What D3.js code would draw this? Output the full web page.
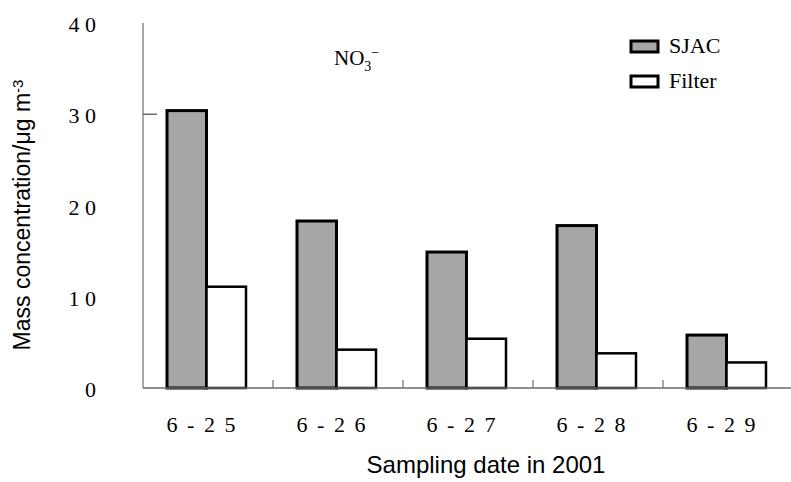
<!DOCTYPE html>
<html>
<head>
<meta charset="utf-8">
<script src="https://cdn.jsdelivr.net/npm/d3@7"></script>
<style>
  body { margin: 0; background: #fff; }
  .serif { font-family: "Liberation Serif", "Times New Roman", serif; }
  .sans { font-family: "Liberation Sans", Arial, sans-serif; }
</style>
</head>
<body>
<div id="chart"></div>
<script>
// data
var dates = ["6 - 2 5", "6 - 2 6", "6 - 2 7", "6 - 2 8", "6 - 2 9"];
var series = ["SJAC", "Filter"];
var sjac = [30.4, 18.3, 14.9, 17.8, 5.8];
var filter = [11.1, 4.2, 5.4, 3.8, 2.8];
var yTicks = [0, 10, 20, 30, 40];
var yTickLabels = ["0", "1 0", "2 0", "3 0", "4 0"];

var svgWidth = 791, svgHeight = 482;
var margin = {top: 23, left: 143, bottom: 94, right: -2};
var chartwidth = svgWidth - margin.left - margin.right,
    chartheight = svgHeight - margin.top - margin.bottom;

var svg = d3.select("#chart")
  .append("svg")
    .attr("width", svgWidth)
    .attr("height", svgHeight);

var g = svg.append("g")
    .attr("transform", "translate(" + margin.left + "," + margin.top + ")");

var x = d3.scaleBand().domain(dates).range([0, chartwidth]);
var x1 = d3.scaleBand().domain(series).range([24, 103]);
var y = d3.scaleLinear().domain([0, 40]).range([chartheight, 0]);

var rows = dates.map(function(d, i) {
  return {date: d, values: [{key: "SJAC", v: sjac[i]}, {key: "Filter", v: filter[i]}]};
});

// bars
var groups = g.selectAll("g.grp")
  .data(rows)
  .enter().append("g")
    .attr("class", "grp")
    .attr("transform", function(d) { return "translate(" + x(d.date) + ",0)"; });

groups.selectAll("rect")
  .data(function(d) { return d.values; })
  .enter().append("rect")
    .attr("x", function(d) { return x1(d.key); })
    .attr("y", function(d) { return y(d.v); })
    .attr("width", x1.bandwidth())
    .attr("height", function(d) { return y(0) - y(d.v); })
    .style("fill", function(d) { return d.key == "SJAC" ? "#a6a6a6" : "#fff"; })
    .style("stroke", "#000")
    .style("stroke-width", function(d) { return d.key == "SJAC" ? 3 : 2.5; });

// y axis
g.append("line")
  .attr("x1", 0).attr("x2", 0)
  .attr("y1", y(40)).attr("y2", y(0))
  .style("stroke", "#8a8a8a").style("stroke-width", 1.5);
g.append("line")
  .attr("x1", 0).attr("x2", 14)
  .attr("y1", y(30)).attr("y2", y(30))
  .style("stroke", "#6a6a6a").style("stroke-width", 1.5);

g.selectAll("text.ytick")
  .data(yTicks)
  .enter().append("text")
    .attr("class", "ytick serif")
    .attr("x", -47)
    .attr("y", function(d) { return y(d); })
    .attr("dy", "0.42em")
    .attr("text-anchor", "end")
    .attr("font-size", "22px")
    .text(function(d, i) { return yTickLabels[i]; });

// x axis
g.append("line")
  .attr("x1", 0).attr("x2", chartwidth)
  .attr("y1", y(0)).attr("y2", y(0))
  .style("stroke", "#6a6a6a").style("stroke-width", 1.5);

g.selectAll("line.xtick")
  .data(dates.slice(1))
  .enter().append("line")
    .attr("class", "xtick")
    .attr("x1", function(d) { return x(d); })
    .attr("x2", function(d) { return x(d); })
    .attr("y1", y(0)).attr("y2", y(0) - 8)
    .style("stroke", "#8a8a8a").style("stroke-width", 1.5);

g.selectAll("text.xlab")
  .data(dates)
  .enter().append("text")
    .attr("class", "xlab serif")
    .attr("x", function(d) { return x(d) + x.bandwidth() / 2 - 6; })
    .attr("y", chartheight + 44)
    .attr("text-anchor", "middle")
    .attr("font-size", "22px")
    .style("letter-spacing", "2px")
    .text(function(d) { return d; });

// axis titles
svg.append("text")
  .attr("class", "sans")
  .attr("x", 486)
  .attr("y", 473)
  .attr("text-anchor", "middle")
  .attr("font-size", "24px")
  .text("Sampling date in 2001");

var yl = svg.append("text")
  .attr("class", "sans")
  .attr("text-anchor", "middle")
  .attr("transform", "translate(30,215) rotate(-90)")
  .attr("font-size", "23px");
yl.append("tspan").text("Mass concentration/\u03bcg m");
yl.append("tspan").attr("dy", "-0.45em").attr("font-size", "15px").text("-3");

// NO3- label
var no3 = svg.append("text")
  .attr("class", "serif")
  .attr("x", 334)
  .attr("y", 65)
  .attr("font-size", "21px");
no3.append("tspan").text("NO");
no3.append("tspan").attr("dy", "6").attr("font-size", "14px").text("3");
no3.append("tspan").attr("dy", "-14").attr("font-size", "14px").text("\u2212");

// legend
var legend = svg.selectAll("g.legend")
  .data(series)
  .enter().append("g")
    .attr("class", "legend")
    .attr("transform", function(d, i) { return "translate(631," + (41 + i * 35) + ")"; });

legend.append("rect")
  .attr("width", 27).attr("height", 11)
  .style("fill", function(d) { return d == "SJAC" ? "#a6a6a6" : "#fff"; })
  .style("stroke", "#000").style("stroke-width", 3);

legend.append("text")
  .attr("class", "serif")
  .attr("x", 38)
  .attr("y", 12)
  .attr("font-size", "22px")
  .text(function(d) { return d; });
</script>
</body>
</html>
